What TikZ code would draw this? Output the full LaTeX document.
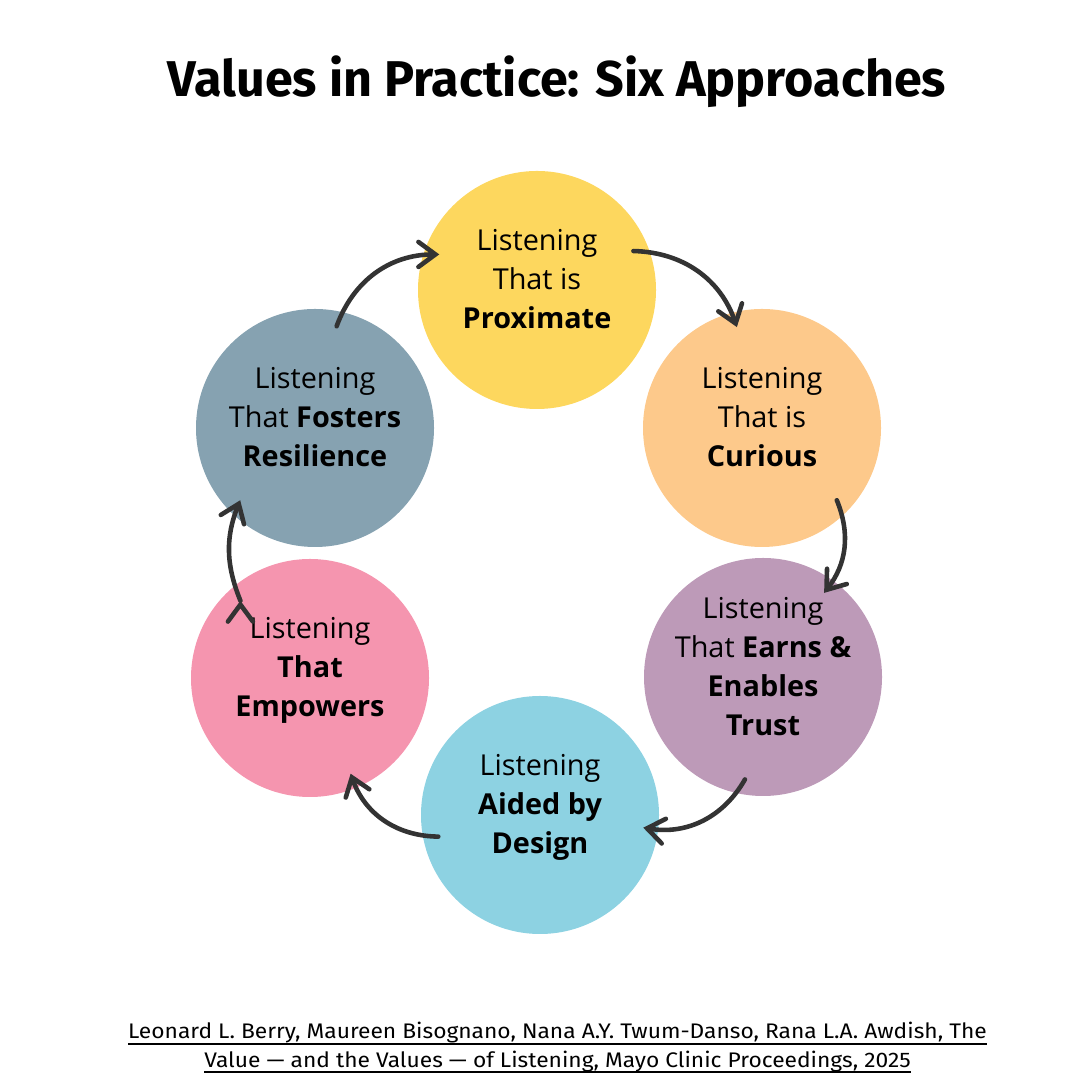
\documentclass[tikz,border=0pt]{standalone}
\usepackage{fontspec}
\setmainfont{Open Sans}
\newfontfamily\titlefont{Fira Sans}
\newfontfamily\citefont[FakeStretch=1.08]{Fira Sans}
\usetikzlibrary{arrows.meta,positioning}

\definecolor{proxcol}{HTML}{FDD75E}
\definecolor{curcol}{HTML}{FDC98B}
\definecolor{trustcol}{HTML}{BD9AB8}
\definecolor{designcol}{HTML}{8DD2E2}
\definecolor{empcol}{HTML}{F595AF}
\definecolor{rescol}{HTML}{86A2B1}
\definecolor{arrowgray}{HTML}{333333}

\begin{document}
\begin{tikzpicture}[bubble/.style={circle,fill=#1,minimum size=2.38cm,inner sep=-0.6cm,outer sep=-0.15cm,align=center,text depth=0.22cm,font=\fontsize{8.2}{11.1}\selectfont},
                    flow/.style={-{Straight Barb[length=1.7mm,width=2.5mm,line cap=round]},line width=1.3pt,draw=arrowgray,line cap=round},
                    cite/.style={anchor=base,inner sep=0pt,font=\citefont\fontsize{6.0}{7}\selectfont}]
                    \useasboundingbox (0,0) rectangle (10.8,10.8);
                    \node[anchor=base,font=\titlefont\bfseries\fontsize{14.3}{16}\selectfont] (title) at (5.57,9.83) {Values in Practice: Six Approaches};
                    \node[bubble=proxcol] (prox) at (5.37,7.90) {Listening\\That is\\\textbf{Proximate}};
                    \node[bubble=curcol] (cur) at (7.62,6.52) {Listening\\That is\\\textbf{Curious}};
                    \node[bubble=trustcol] (trust) at (7.63,4.03) {Listening\\That \textbf{Earns \&}\\\textbf{Enables}\\\textbf{Trust}};
                    \node[bubble=designcol] (design) at (5.40,2.65) {Listening\\\textbf{Aided by}\\\textbf{Design}};
                    \node[bubble=empcol] (emp) at (3.10,4.02) {Listening\\\textbf{That}\\\textbf{Empowers}};
                    \node[bubble=rescol] (res) at (3.15,6.52) {Listening\\That \textbf{Fosters}\\\textbf{Resilience}};
                    \path[flow]
                        (res.78) edge [bend left=35] (prox.160)
                        (prox.22) edge [bend left=35] (cur.104)
                        (cur.-44) edge [bend left=30] (trust.54)
                        (trust.-100) edge [bend left=35] (design.-7)
                        (design.-168) edge [bend left=35] (emp.-67)
                        (emp.132) edge [bend left=22] (res.-136);
                    \node[cite] (ref1) at (5.575,0.41) {\underline{\smash{Leonard L. Berry, Maureen Bisognano, Nana A.Y. Twum-Danso, Rana L.A. Awdish, The}}};
                    \node[cite] (ref2) at (5.575,0.13) {\underline{\smash{Value — and the Values — of Listening, Mayo Clinic Proceedings, 2025}}};
                \end{tikzpicture}
\end{document}
